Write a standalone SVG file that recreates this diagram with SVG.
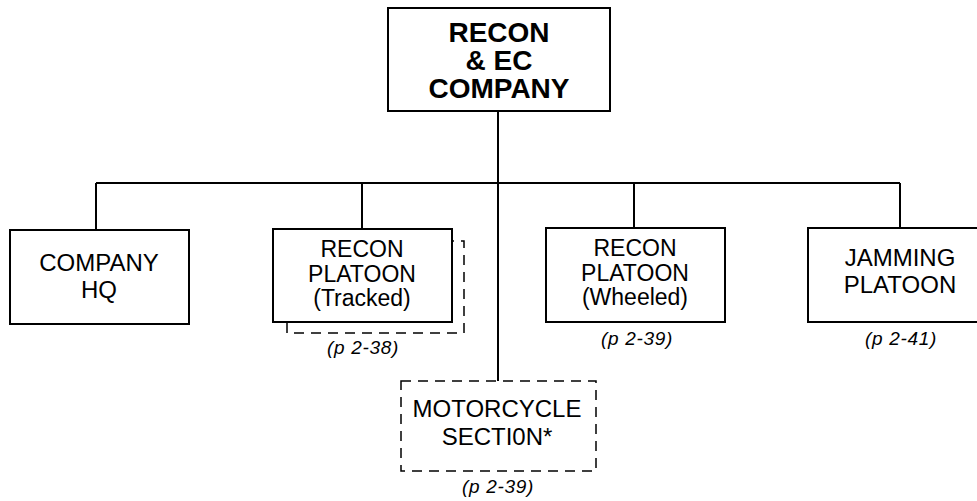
<svg xmlns="http://www.w3.org/2000/svg" width="977" height="501" viewBox="0 0 977 501">
<style>
.box{fill:#fff;stroke:#000;stroke-width:2}
.dash{fill:none;stroke:#000;stroke-width:1.5;stroke-dasharray:10 7}
.ln{fill:none;stroke:#000;stroke-width:2}
text{font-family:"Liberation Sans",Arial,sans-serif;text-anchor:middle;fill:#000}
.t{font-size:24px}
.t3{font-size:23px}
.tb{font-size:28px;font-weight:bold}
.ref{font-size:19px;font-style:italic;letter-spacing:0.7px}
</style>
<rect width="977" height="501" fill="#fff"/>
<g id="connectors">
<line class="ln" x1="96" y1="183" x2="900" y2="183"/>
<line class="ln" x1="498" y1="111" x2="498" y2="381"/>
<line class="ln" x1="96" y1="183" x2="96" y2="230"/>
<line class="ln" x1="362" y1="183" x2="362" y2="229"/>
<line class="ln" x1="634" y1="183" x2="634" y2="228"/>
<line class="ln" x1="900" y1="183" x2="900" y2="228"/>
</g>
<g id="recon-ec-company">
<rect class="box" x="388" y="8" width="222" height="103"/>
<text class="tb" x="499" y="42">RECON</text>
<text class="tb" x="499" y="70">&amp; EC</text>
<text class="tb" x="499" y="98">COMPANY</text>
</g>
<g id="company-hq">
<rect class="box" x="10" y="230" width="179" height="94"/>
<text class="t" x="99" y="271">COMPANY</text>
<text class="t" x="99" y="298">HQ</text>
</g>
<g id="recon-platoon-tracked">
<path class="dash" d="M287 323 V333 H464 V241 H453"/>
<rect class="box" x="273" y="229" width="179" height="93"/>
<text class="t3" x="362" y="257">RECON</text>
<text class="t3" x="362" y="282">PLATOON</text>
<text class="t3" x="362" y="306">(Tracked)</text>
<text class="ref" x="363" y="354">(p 2-38)</text>
</g>
<g id="recon-platoon-wheeled">
<rect class="box" x="546" y="228" width="179" height="94"/>
<text class="t3" x="635" y="256">RECON</text>
<text class="t3" x="635" y="281">PLATOON</text>
<text class="t3" x="635" y="305">(Wheeled)</text>
<text class="ref" x="637" y="345">(p 2-39)</text>
</g>
<g id="jamming-platoon">
<rect class="box" x="808" y="228" width="184" height="94"/>
<text class="t" x="900" y="266">JAMMING</text>
<text class="t" x="900" y="293">PLATOON</text>
<text class="ref" x="901" y="345">(p 2-41)</text>
</g>
<g id="motorcycle-section">
<rect class="dash" x="401" y="381" width="195" height="90"/>
<text class="t" x="497" y="417">MOTORCYCLE</text>
<text class="t" x="497" y="445">SECTI0N*</text>
<text class="ref" x="498" y="493">(p 2-39)</text>
</g>
</svg>
